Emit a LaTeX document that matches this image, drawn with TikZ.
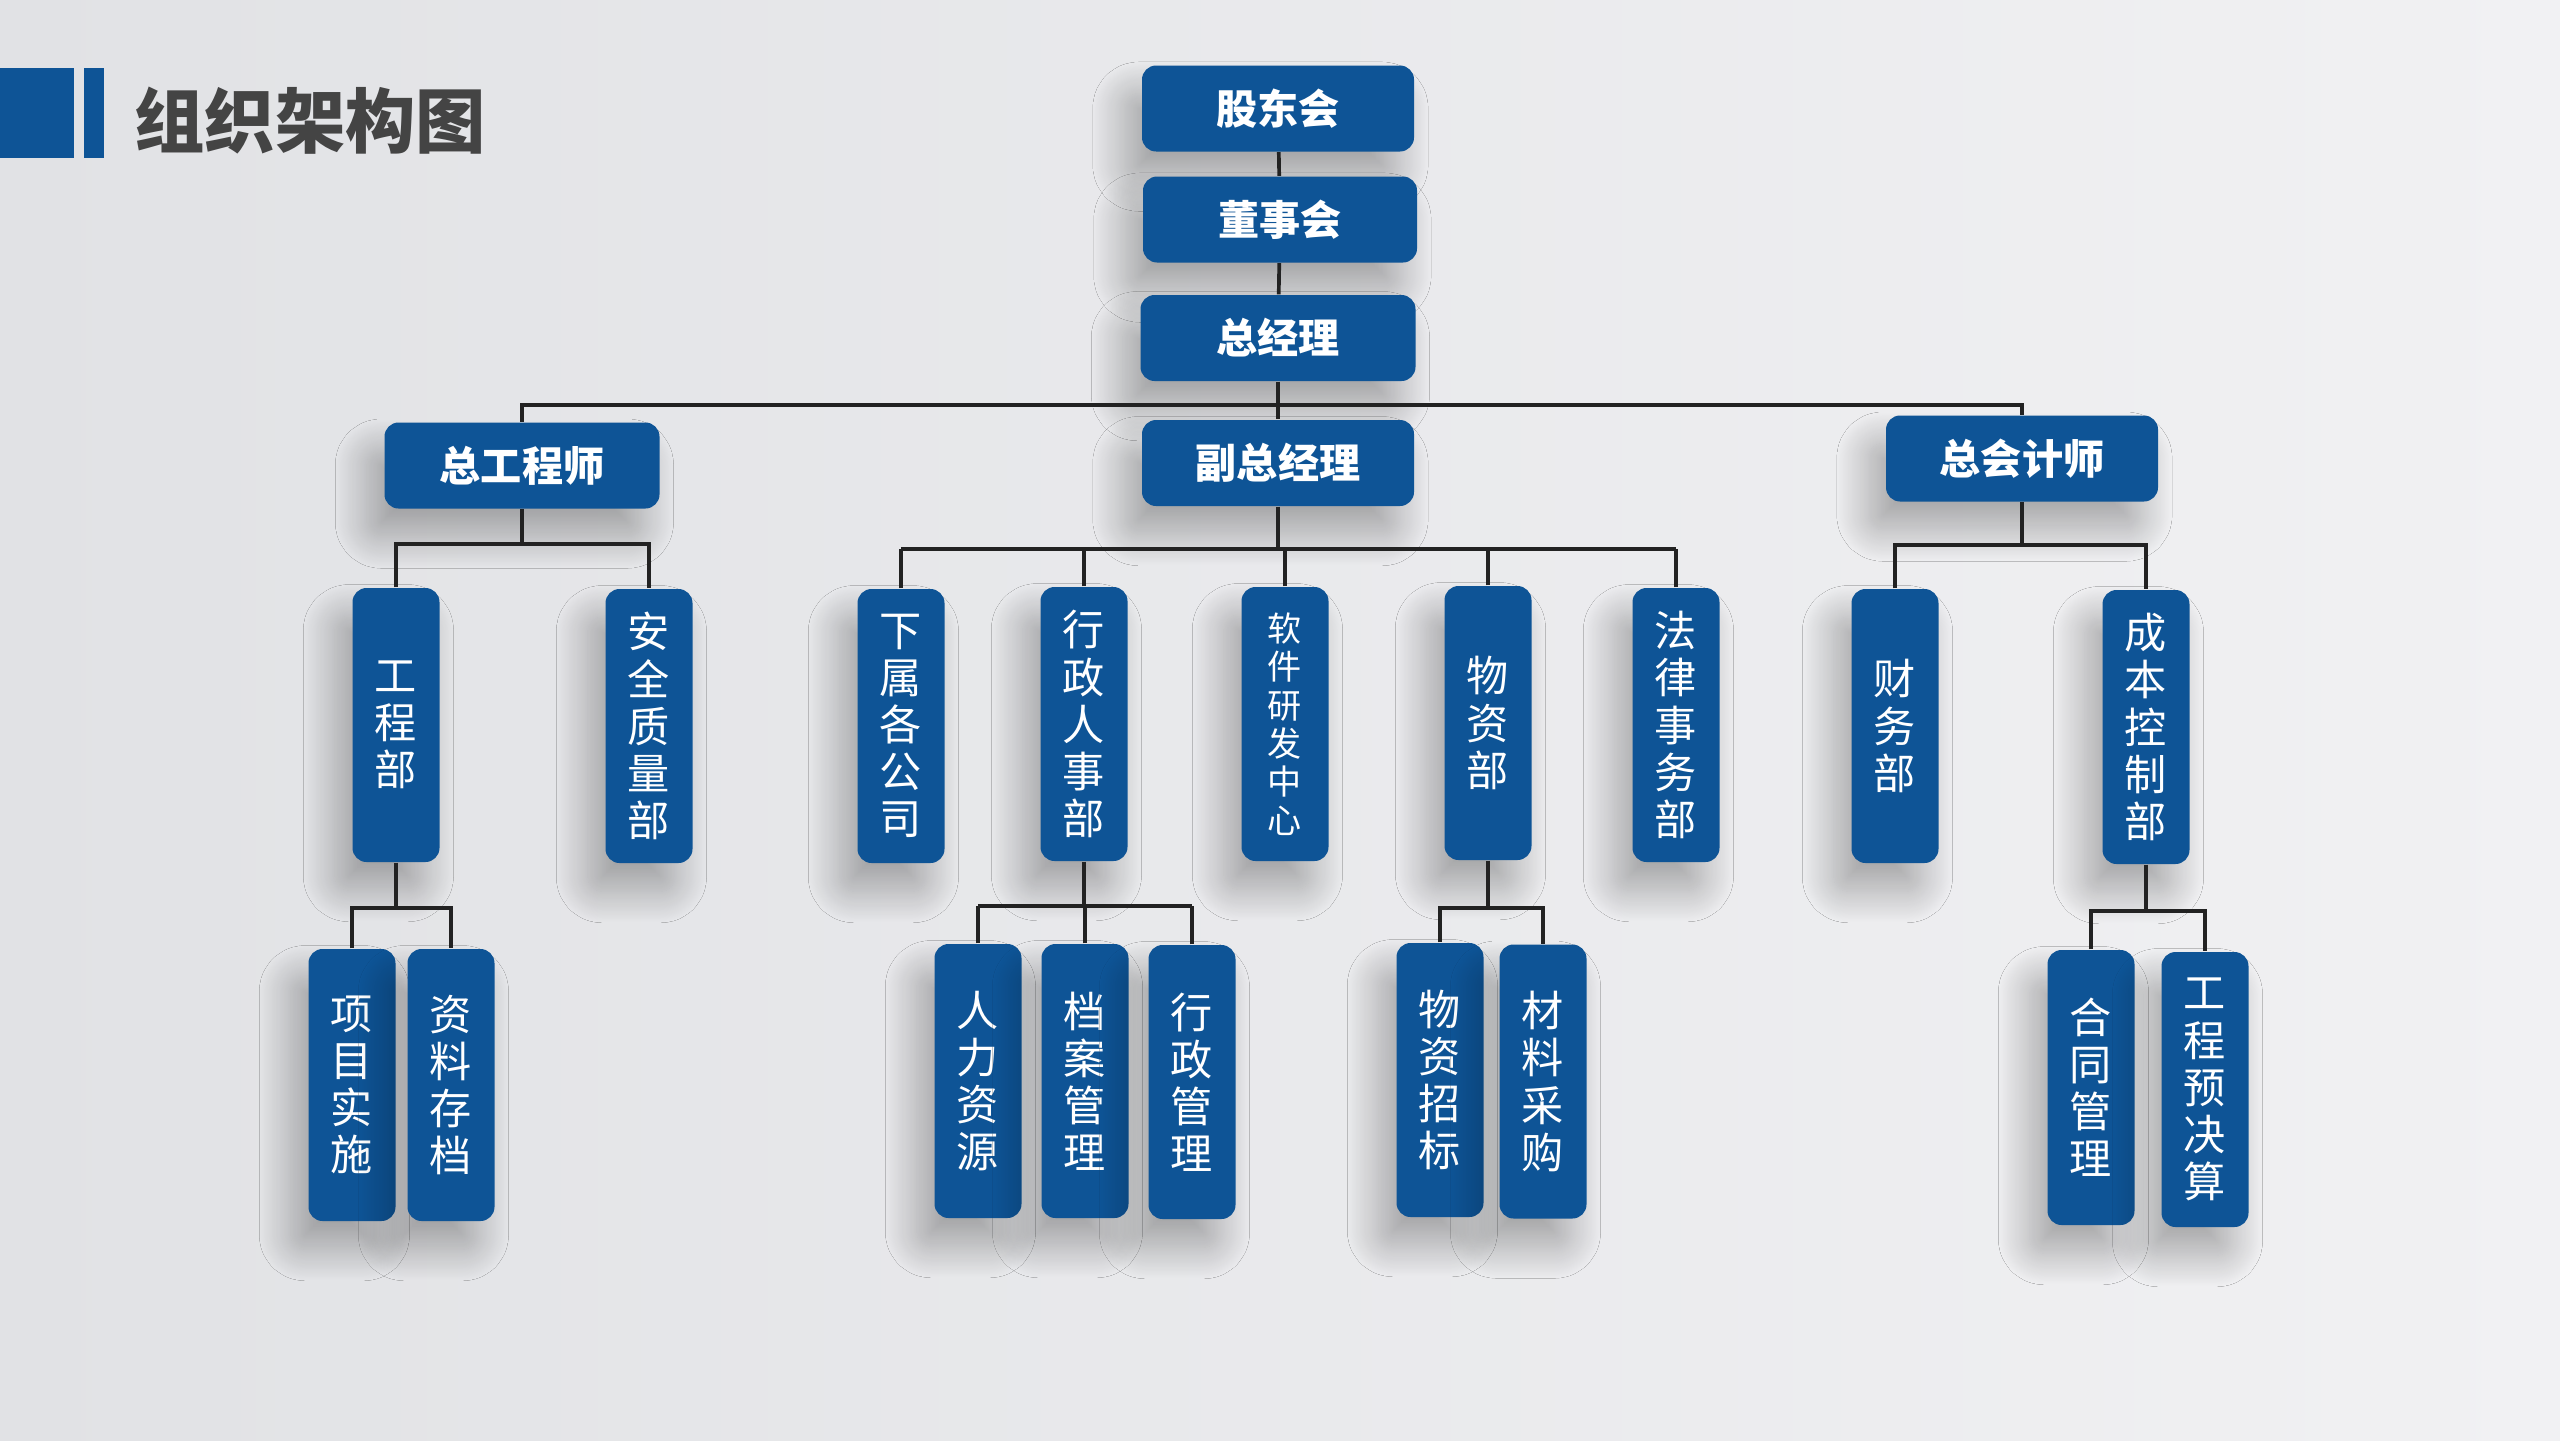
\documentclass[tikz,border=0pt]{standalone}
\usepackage{fontspec}
\setmainfont{Noto Sans CJK SC}
\usetikzlibrary{shadows.blur}
\definecolor{orgblue}{RGB}{14,84,150}
\definecolor{linegray}{RGB}{34,34,34}
\definecolor{titlegray}{RGB}{68,68,68}
\tikzset{
  boxshadow/.style={blur shadow={shadow xshift=-5pt, shadow yshift=-8pt, shadow blur radius=9pt, shadow blur steps=40, shadow opacity=30}},
  hbox/.style={fill=orgblue, rounded corners=4pt, minimum width=2.72cm, minimum height=0.86cm, inner sep=0pt, text=white, font=\bfseries\fontsize{11.7}{14}\selectfont, boxshadow},
  vbox/.style={fill=orgblue, rounded corners=4pt, minimum width=0.87cm, minimum height=2.74cm, inner sep=0pt, align=center, text=white, font=\fontsize{12}{13.4}\selectfont, boxshadow},
  smalltext/.style={font=\fontsize{9.7}{10.9}\selectfont},
  link/.style={draw=linegray, line width=1.05pt}
}
\begin{document}
\begin{tikzpicture}
	\shade[left color={rgb,255:red,225;green,226;blue,229}, right color={rgb,255:red,241;green,241;blue,243}] (0,0) rectangle (25.6,-14.4);
	\useasboundingbox (0,0) rectangle (25.6,-14.4);
	% title
	\fill[orgblue] (0,-0.68) rectangle (0.74,-1.58);
	\fill[orgblue] (0.84,-0.68) rectangle (1.04,-1.58);
	\node[anchor=west, inner sep=0pt, text=titlegray, font=\bfseries\fontsize{20}{24}\selectfont] (title) at (1.34,-1.21) {组织架构图};
	% top level
	\node[hbox] (gdh) at (12.78,-1.085) {股东会};
	\node[hbox, minimum width=2.74cm] (dsh) at (12.80,-2.195) {董事会};
	\node[hbox, minimum width=2.75cm] (zjl) at (12.78,-3.38) {总经理};
	\node[hbox, minimum width=2.75cm] (zgcs) at (5.22,-4.655) {总工程师};
	\node[hbox] (fzjl) at (12.78,-4.63) {副总经理};
	\node[hbox] (zkjs) at (20.22,-4.585) {总会计师};
	% second level
	\node[vbox] (gcb) at (3.96,-7.25) {工\\程\\部};
	\node[vbox] (aqzl) at (6.49,-7.26) {安\\全\\质\\量\\部};
	\node[vbox] (xsgs) at (9.01,-7.26) {下\\属\\各\\公\\司};
	\node[vbox] (xzrs) at (10.84,-7.24) {行\\政\\人\\事\\部};
	\node[vbox, smalltext] (rjyf) at (12.85,-7.24) {软\\件\\研\\发\\中\\心};
	\node[vbox] (wzb) at (14.88,-7.23) {物\\资\\部};
	\node[vbox] (flsw) at (16.76,-7.25) {法\\律\\事\\务\\部};
	\node[vbox] (cwb) at (18.95,-7.26) {财\\务\\部};
	\node[vbox] (cbkz) at (21.46,-7.27) {成\\本\\控\\制\\部};
	% third level
	\node[vbox, minimum height=2.72cm] (xmss) at (3.52,-10.85) {项\\目\\实\\施};
	\node[vbox, minimum height=2.72cm] (zlcd) at (4.51,-10.85) {资\\料\\存\\档};
	\node[vbox] (rlzy) at (9.78,-10.81) {人\\力\\资\\源};
	\node[vbox] (dagl) at (10.85,-10.81) {档\\案\\管\\理};
	\node[vbox] (xzgl) at (11.92,-10.82) {行\\政\\管\\理};
	\node[vbox] (wzzb) at (14.40,-10.80) {物\\资\\招\\标};
	\node[vbox] (clcg) at (15.43,-10.815) {材\\料\\采\\购};
	\node[vbox, minimum height=2.75cm] (htgl) at (20.91,-10.875) {合\\同\\管\\理};
	\node[vbox, minimum height=2.75cm] (gcyjs) at (22.05,-10.895) {工\\程\\预\\决\\算};
	% connectors
	\coordinate (topbus) at (12.78,-4.05);
	\coordinate (zgbus) at (5.22,-5.44);
	\coordinate (fzbus) at (12.78,-5.49);
	\coordinate (zkbus) at (20.22,-5.45);
	\coordinate (gcbus) at (3.96,-9.08);
	\coordinate (xzbus) at (10.84,-9.06);
	\coordinate (wzbus) at (14.88,-9.08);
	\coordinate (cbbus) at (21.46,-9.11);
	\begin{scope}[link]
	\draw (gdh) -- (dsh);
	\draw (dsh) -- (zjl);
	\draw (zjl) -- (fzjl);
	\draw (zgcs.north) -- (zgcs.north |- topbus) -- (zkjs.north |- topbus) -- (zkjs.north);
	\draw (zgcs) -- (zgbus);
	\draw (gcb.north) -- (gcb.north |- zgbus) -- (aqzl.north |- zgbus) -- (aqzl.north);
	\draw (fzjl) -- (fzbus);
	\draw (xsgs.north |- fzbus) -- (flsw.north |- fzbus);
	\foreach \c in {xsgs,xzrs,rjyf,wzb,flsw}
		\draw (\c.north) -- (\c.north |- fzbus);
	\draw (zkjs) -- (zkbus);
	\draw (cwb.north) -- (cwb.north |- zkbus) -- (cbkz.north |- zkbus) -- (cbkz.north);
	\draw (gcb) -- (gcbus);
	\draw (xmss.north) -- (xmss.north |- gcbus) -- (zlcd.north |- gcbus) -- (zlcd.north);
	\draw (xzrs) -- (xzbus);
	\draw (rlzy.north |- xzbus) -- (xzgl.north |- xzbus);
	\foreach \c in {rlzy,dagl,xzgl}
		\draw (\c.north) -- (\c.north |- xzbus);
	\draw (wzb) -- (wzbus);
	\draw (wzzb.north) -- (wzzb.north |- wzbus) -- (clcg.north |- wzbus) -- (clcg.north);
	\draw (cbkz) -- (cbbus);
	\draw (htgl.north) -- (htgl.north |- cbbus) -- (gcyjs.north |- cbbus) -- (gcyjs.north);
	\end{scope}
\end{tikzpicture}
\end{document}
